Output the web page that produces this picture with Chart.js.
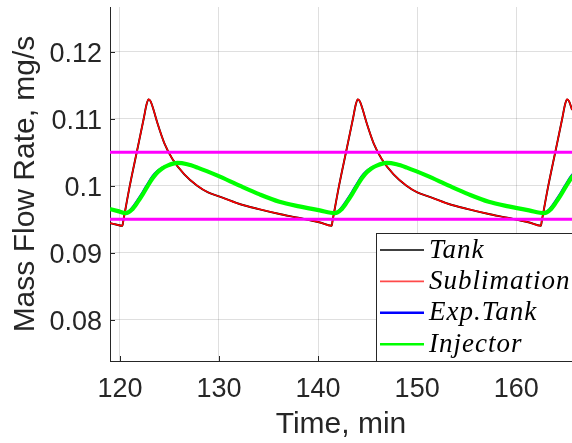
<!DOCTYPE html>
<html>
<head>
<meta charset="utf-8">
<script src="https://cdn.jsdelivr.net/npm/chart.js@4/dist/chart.umd.min.js"></script>
<style>
  body { margin: 0; background: #fff; }
  canvas { display: block; }
</style>
</head>
<body>
<canvas id="flow-chart" width="572" height="443"></canvas>
<script>
// axis ticks
var xTicks = [120, 130, 140, 150, 160];
var yTicks = [0.08, 0.09, 0.1, 0.11, 0.12];
var yTickLabels = ["0.08", "0.09", "0.1", "0.11", "0.12"];

// tank / sublimation flow (the two curves sit on top of each other)
var sublTime = [119.0, 119.6, 120.25, 120.35, 121.0, 121.7, 122.4, 122.7, 122.9, 123.1, 123.4, 123.8, 124.5, 125.3, 126.5, 127.8, 128.9, 130.0, 132.0, 134.0, 136.0, 138.0, 140.2,
    141.37, 141.47, 142.12, 142.82, 143.52, 143.82, 144.02, 144.22, 144.52, 144.92, 145.62, 146.42, 147.62, 148.92, 150.02, 151.12, 153.12, 155.12, 157.12, 159.12, 161.32,
    162.49, 162.59, 163.24, 163.94, 164.64, 164.94, 165.14, 165.34, 165.64, 166.0];
var sublVals = [0.0944, 0.0942, 0.0940, 0.0948, 0.1000, 0.1050, 0.1100, 0.1122, 0.1129, 0.1126, 0.1113, 0.1093, 0.1063, 0.1040, 0.1017, 0.1000, 0.0990, 0.0984, 0.0973, 0.0965, 0.0958, 0.0952, 0.0945,
    0.0940, 0.0948, 0.1000, 0.1050, 0.1100, 0.1122, 0.1129, 0.1126, 0.1113, 0.1093, 0.1063, 0.1040, 0.1017, 0.1000, 0.0990, 0.0984, 0.0973, 0.0965, 0.0958, 0.0952, 0.0945,
    0.0940, 0.0948, 0.1000, 0.1050, 0.1100, 0.1122, 0.1129, 0.1126, 0.1113, 0.1096];
var tankTime = sublTime;
var tankVals = sublVals;

// injector flow
var injTime = [119.0, 119.8, 120.59, 121.2, 121.77, 122.3, 122.78, 123.3, 123.8, 124.3, 124.8, 125.8, 126.8, 127.84, 129.86, 132.08, 134.1, 136.1, 138.1, 140.17,
    141.71, 142.32, 142.89, 143.42, 143.9, 144.42, 144.92, 145.42, 145.92, 146.92, 147.92, 148.96, 150.98, 153.2, 155.22, 157.22, 159.22, 161.29,
    162.83, 163.44, 164.01, 164.54, 165.02, 165.54, 166.04];
var injVals = [0.0965, 0.0962, 0.0959, 0.0964, 0.0975, 0.0987, 0.0999, 0.1011, 0.1020, 0.1026, 0.1030, 0.1034, 0.1032, 0.1027, 0.1015, 0.1000, 0.0987, 0.0976, 0.0969, 0.0963,
    0.0959, 0.0964, 0.0975, 0.0987, 0.0999, 0.1011, 0.1020, 0.1026, 0.1030, 0.1034, 0.1032, 0.1027, 0.1015, 0.1000, 0.0987, 0.0976, 0.0969, 0.0963,
    0.0959, 0.0964, 0.0975, 0.0987, 0.0999, 0.1011, 0.1020];
// expansion tank, just ahead of the injector on the way up
var expVals = [0.0965, 0.0962, 0.0959, 0.0966, 0.0978, 0.0990, 0.1002, 0.1014, 0.1022, 0.1027, 0.1030, 0.1034, 0.1032, 0.1027, 0.1015, 0.1000, 0.0987, 0.0976, 0.0969, 0.0963,
    0.0959, 0.0966, 0.0978, 0.0990, 0.1002, 0.1014, 0.1022, 0.1027, 0.1030, 0.1034, 0.1032, 0.1027, 0.1015, 0.1000, 0.0987, 0.0976, 0.0969, 0.0963,
    0.0959, 0.0966, 0.0978, 0.0990, 0.1002, 0.1014, 0.1022];

// limit lines
var limitTime = [119.0, 166.0];
var upperLimit = [0.105, 0.105];
var lowerLimit = [0.095, 0.095];

function pts(t, v) {
    return t.map(function (x, i) { return { x: x, y: v[i] }; });
}

var axisColor = "#262626";
var sansFont = "'Liberation Sans', Arial, sans-serif";

// no extra room for end labels, the plot box is fixed
function noPad(s) {
    s.paddingTop = 0;
    s.paddingBottom = 0;
    s.paddingLeft = 0;
    s.paddingRight = 0;
}

// MATLAB style boxed legend in the lower right + inward tick marks
var boxLegend = {
    id: "boxLegend",
    afterDraw: function (chart) {
        var ctx = chart.ctx;
        var xs = chart.scales.x, ys = chart.scales.y;
        var area = chart.chartArea;
        ctx.save();
        ctx.strokeStyle = axisColor;
        ctx.lineWidth = 1;
        xTicks.forEach(function (v) {
            var px = Math.round(xs.getPixelForValue(v)) + 0.5;
            ctx.beginPath();
            ctx.moveTo(px, area.bottom);
            ctx.lineTo(px, area.bottom - 5);
            ctx.stroke();
        });
        yTicks.forEach(function (v) {
            var py = Math.round(ys.getPixelForValue(v)) + 0.5;
            ctx.beginPath();
            ctx.moveTo(area.left, py);
            ctx.lineTo(area.left + 5, py);
            ctx.stroke();
        });

        var items = chart.data.datasets.filter(function (d) { return d.label; });
        ctx.fillStyle = "#ffffff";
        ctx.fillRect(376, 233, 210, 129);
        ctx.strokeStyle = axisColor;
        ctx.strokeRect(376.5, 233.5, 210, 128);
        ctx.font = "italic 27px 'Liberation Serif', serif";
        ctx.letterSpacing = "1px";
        ctx.textBaseline = "alphabetic";
        items.forEach(function (d, i) {
            var y = 250 + i * 31.4;
            ctx.strokeStyle = d.legendColor || d.borderColor;
            ctx.lineWidth = d.legendWidth;
            ctx.beginPath();
            ctx.moveTo(380, y);
            ctx.lineTo(424, y);
            ctx.stroke();
            ctx.fillStyle = "#000000";
            ctx.fillText(d.label, 429, y + 7.5);
        });
        ctx.restore();
    }
};

new Chart(document.getElementById("flow-chart"), {
    type: "line",
    data: {
        datasets: [
            {
                label: "Tank",
                data: pts(tankTime, tankVals),
                borderColor: "#000000",
                borderWidth: 1.9,
                legendWidth: 1.5,
                order: 5
            },
            {
                label: "Sublimation",
                data: pts(sublTime, sublVals),
                borderColor: "#ff0000",
                legendColor: "#ff4a4a",
                borderWidth: 1.5,
                legendWidth: 1.6,
                order: 4
            },
            {
                label: "Exp.Tank",
                data: pts(injTime, expVals),
                borderColor: "#0000ff",
                borderWidth: 2.5,
                legendWidth: 2.5,
                order: 3
            },
            {
                label: "Injector",
                data: pts(injTime, injVals),
                borderColor: "#00ff00",
                borderWidth: 4.2,
                legendWidth: 2.5,
                order: 2
            },
            {
                data: pts(limitTime, upperLimit),
                borderColor: "#ff00ff",
                borderWidth: 3,
                cubicInterpolationMode: "default",
                order: 1
            },
            {
                data: pts(limitTime, lowerLimit),
                borderColor: "#ff00ff",
                borderWidth: 3,
                cubicInterpolationMode: "default",
                order: 1
            }
        ]
    },
    options: {
        responsive: false,
        animation: false,
        layout: { padding: { top: 7, right: 0, left: 0, bottom: 0 } },
        elements: {
            point: { radius: 0 },
            line: { cubicInterpolationMode: "monotone", fill: false }
        },
        plugins: {
            legend: { display: false },
            tooltip: { enabled: false }
        },
        scales: {
            x: {
                type: "linear",
                min: 119.0,
                max: 165.63,
                afterBuildTicks: function (s) {
                    s.ticks = xTicks.map(function (v) { return { value: v }; });
                },
                afterFit: function (s) { s.height = 82; noPad(s); },
                ticks: {
                    font: { family: sansFont, size: 27 },
                    color: axisColor,
                    padding: 12,
                    maxRotation: 0,
                    autoSkip: false,
                    callback: function (v) { return String(v); }
                },
                grid: { color: "rgba(38,38,38,0.15)", drawTicks: false },
                border: { color: axisColor, width: 1 },
                title: {
                    display: true,
                    text: "Time, min",
                    font: { family: sansFont, size: 30 },
                    color: axisColor,
                    padding: { top: 0, bottom: 0 }
                }
            },
            y: {
                type: "linear",
                min: 0.0738,
                max: 0.1267,
                afterBuildTicks: function (s) {
                    s.ticks = yTicks.map(function (v) { return { value: v }; });
                },
                afterFit: function (s) { s.width = 110; noPad(s); },
                ticks: {
                    font: { family: sansFont, size: 27 },
                    color: axisColor,
                    padding: 8,
                    labelOffset: 3,
                    autoSkip: false,
                    callback: function (v, i) { return yTickLabels[i]; }
                },
                grid: { color: "rgba(38,38,38,0.15)", drawTicks: false },
                border: { color: axisColor, width: 1 },
                title: {
                    display: true,
                    text: "Mass Flow Rate, mg/s",
                    font: { family: sansFont, size: 30 },
                    color: axisColor,
                    padding: { top: 8, bottom: 0 }
                }
            }
        }
    },
    plugins: [boxLegend]
});
</script>
</body>
</html>
